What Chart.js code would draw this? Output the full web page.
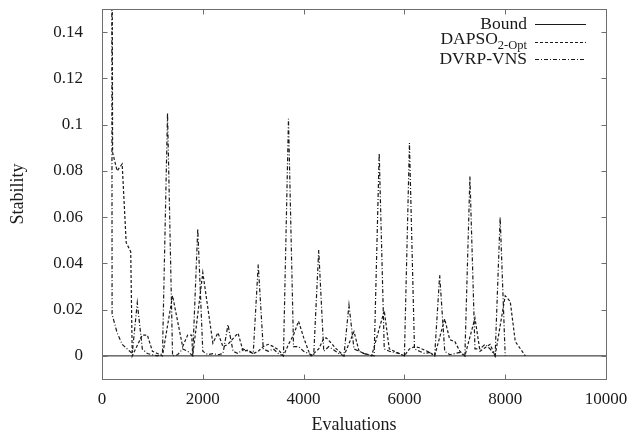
<!DOCTYPE html>
<html>
<head>
<meta charset="utf-8">
<script src="https://cdn.jsdelivr.net/npm/chart.js@4.4.0/dist/chart.umd.min.js"></script>
<style>
  html, body { margin: 0; padding: 0; background: #fff; }
  canvas { display: block; }
</style>
</head>
<body>
<canvas id="grafico" width="642" height="437"></canvas>
<script>
const boundEvals = [0, 10000];
const boundValues = [0, 0];

const dapsoEvals = [190, 210, 300, 400, 480, 570, 600, 800, 900, 1000, 1100, 1200, 1400, 1600, 1700, 1780, 1800,
  2000, 2200, 2300, 2400, 2500, 2600, 2700, 2800, 2900, 3000, 3100, 3200, 3300, 3400, 3500, 3600,
  3700, 3800, 3900, 4000, 4100, 4150, 4200, 4300, 4400, 4450, 4550, 4650, 4800,
  5000, 5100, 5200, 5300, 5350, 5600, 5700, 5800, 5900, 6000, 6100, 6200, 6300, 6400, 6500, 6600,
  6800, 6900, 7000, 7100, 7200, 7400, 7500, 7700, 7800, 8000, 8100, 8200, 8400];
const dapsoValues = [0.3, 0.088, 0.080, 0.083, 0.049, 0.045, 0, 0.009, 0.009, 0.002, 0.001, 0, 0.026, 0.004, 0.009, 0.009, 0,
  0.036, 0.0055, 0.010, 0.004, 0.005, 0.0075, 0.0098, 0.002, 0.0025, 0.001, 0.002, 0.004, 0.005, 0.004, 0.0027, 0,
  0.005, 0.009, 0.015, 0.008, 0.002, 0, 0.001, 0.003, 0.0075, 0.0078, 0.0055, 0.003, 0,
  0.0105, 0.002, 0.001, 0.0005, 0, 0.0195, 0.003, 0.002, 0.001, 0, 0.003, 0.004, 0.0035, 0.0025, 0.0015, 0,
  0.016, 0.007, 0.0062, 0.002, 0, 0.0163, 0.002, 0.005, 0, 0.026, 0.0235, 0.0062, 0];

const vnsEvals = [190, 200, 300, 400, 500, 600, 700, 800, 900, 1000, 1100, 1200, 1300, 1400, 1500, 1600, 1700, 1800,
  1900, 2000, 2100, 2200, 2300, 2400, 2500, 2600, 2700, 2800, 2900, 3000, 3100, 3200, 3300, 3400, 3500, 3600,
  3700, 3800, 3900, 4000, 4100, 4200, 4300, 4400, 4500, 4600, 4700, 4800, 4900, 5000, 5100, 5200, 5300, 5400,
  5500, 5600, 5700, 5800, 5900, 6000, 6100, 6200, 6300, 6400, 6500, 6600, 6700, 6800, 6900, 7000, 7100, 7200,
  7300, 7400, 7500, 7600, 7700, 7800, 7900, 8000];
const vnsValues = [0.3, 0.018, 0.010, 0.005, 0.003, 0.001, 0.023, 0.003, 0.001, 0.0005, 0, 0.001, 0.105, 0, 0.0005, 0.003, 0.002, 0,
  0.055, 0.002, 0.0005, 0.001, 0.0005, 0.001, 0.0135, 0.002, 0.001, 0.003, 0.002, 0.001, 0.0395, 0.003, 0.002, 0.003, 0.001, 0,
  0.1025, 0.004, 0.004, 0.002, 0.001, 0, 0.0458, 0.002, 0.004, 0.0025, 0.001, 0, 0.022, 0.003, 0.002, 0.001, 0.0005, 0,
  0.0877, 0.003, 0.002, 0.0015, 0.001, 0, 0.092, 0.003, 0.002, 0.001, 0.0015, 0, 0.035, 0.002, 0.0005, 0.001, 0.0015, 0,
  0.0776, 0.003, 0.003, 0.005, 0.003, 0, 0.060, 0];

const xTickValues = [0, 2000, 4000, 6000, 8000, 10000];
const yTickValues = [0, 0.02, 0.04, 0.06, 0.08, 0.1, 0.12, 0.14];
const yTickLabels = ['0', '0.02', '0.04', '0.06', '0.08', '0.1', '0.12', '0.14'];

const legendRows = [
  { text: 'Bound', sub: '' },
  { text: 'DAPSO', sub: '2-Opt' },
  { text: 'DVRP-VNS', sub: '' }
];

const toPoints = (xs, ys) => xs.map((x, i) => ({ x: x, y: ys[i] }));

const serif = "'Liberation Serif', 'DejaVu Serif', serif";
const ink = '#1a1a1a';
const frameColor = '#6e6e6e';
const lineColor = '#1a1a1a';

// gnuplot look: grey box with inward ticks on every side, key top right
const framePlugin = {
  id: 'frame',
  afterDraw(chart) {
    const { ctx, chartArea: a, scales } = chart;
    const L = Math.round(a.left) + 0.5, R = Math.round(a.right) + 0.5;
    const T = Math.round(a.top) + 0.5, B = Math.round(a.bottom) + 0.5;
    const tick = 5;
    ctx.save();
    ctx.strokeStyle = frameColor;
    ctx.lineWidth = 1;
    ctx.strokeRect(L, T, R - L, B - T);
    ctx.beginPath();
    yTickValues.forEach(v => {
      const y = Math.round(scales.y.getPixelForValue(v)) + 0.5;
      ctx.moveTo(L, y); ctx.lineTo(L + tick, y);
      ctx.moveTo(R, y); ctx.lineTo(R - tick, y);
    });
    xTickValues.forEach(v => {
      const x = Math.round(scales.x.getPixelForValue(v)) + 0.5;
      ctx.moveTo(x, B); ctx.lineTo(x, B - tick);
      ctx.moveTo(x, T); ctx.lineTo(x, T + tick);
    });
    ctx.stroke();

    // key
    const textRight = 527, sampleL = 535, sampleR = 586;
    const rowY = [24, 41.5, 59];
    legendRows.forEach((row, i) => {
      const ds = chart.data.datasets[i];
      const y = rowY[i];
      ctx.fillStyle = ink;
      ctx.textBaseline = 'middle';
      ctx.textAlign = 'left';
      ctx.font = '17.5px ' + serif;
      const mainW = ctx.measureText(row.text).width;
      ctx.font = '12.5px ' + serif;
      const subW = row.sub ? ctx.measureText(row.sub).width : 0;
      const x0 = textRight - mainW - subW;
      ctx.font = '17.5px ' + serif;
      ctx.fillText(row.text, x0, row.sub ? y - 2 : y);
      if (row.sub) {
        ctx.font = '12.5px ' + serif;
        ctx.fillText(row.sub, x0 + mainW, y + 4);
      }
      ctx.strokeStyle = ds.borderColor;
      ctx.lineWidth = ds.borderWidth;
      ctx.setLineDash(ds.borderDash || []);
      ctx.beginPath();
      ctx.moveTo(sampleL, Math.round(y) + 0.5);
      ctx.lineTo(sampleR, Math.round(y) + 0.5);
      ctx.stroke();
      ctx.setLineDash([]);
    });
    ctx.restore();
  }
};

const ctx = document.getElementById('grafico').getContext('2d');

const grafico = new Chart(ctx, {
  type: 'line',
  data: {
    datasets: [{
      label: 'Bound',
      data: toPoints(boundEvals, boundValues),
      borderColor: lineColor,
      borderWidth: 1,
      borderDash: []
    }, {
      label: 'DAPSO2-Opt',
      data: toPoints(dapsoEvals, dapsoValues),
      borderColor: lineColor,
      borderWidth: 1.2,
      borderDash: [3, 2]
    }, {
      label: 'DVRP-VNS',
      data: toPoints(vnsEvals, vnsValues),
      borderColor: lineColor,
      borderWidth: 1.2,
      borderDash: [4, 2, 1, 2]
    }]
  },
  options: {
    responsive: false,
    animation: false,
    layout: { padding: { top: 9, right: 36, left: 0, bottom: 0 } },
    elements: {
      point: { radius: 0 },
      line: { tension: 0, fill: false }
    },
    plugins: {
      legend: { display: false },
      tooltip: { enabled: false }
    },
    scales: {
      x: {
        type: 'linear',
        min: 0,
        max: 10000,
        grid: { display: false },
        border: { display: false },
        afterBuildTicks: axis => { axis.ticks = xTickValues.map(v => ({ value: v })); },
        afterFit: axis => { axis.height = 58; axis.paddingLeft = 0; axis.paddingRight = 0; },
        ticks: {
          color: ink,
          padding: 2,
          maxRotation: 0,
          font: { family: serif, size: 17 },
          callback: v => String(v)
        },
        title: {
          display: true,
          text: 'Evaluations',
          color: ink,
          font: { family: serif, size: 18 },
          padding: { top: 0, bottom: 1 }
        }
      },
      y: {
        min: -0.01,
        max: 0.15,
        grid: { display: false },
        border: { display: false },
        afterBuildTicks: axis => { axis.ticks = yTickValues.map(v => ({ value: v })); },
        afterFit: axis => { axis.width = 102; axis.paddingTop = 0; axis.paddingBottom = 0; },
        ticks: {
          color: ink,
          padding: 11,
          font: { family: serif, size: 17 },
          callback: (v, i) => yTickLabels[i]
        },
        title: {
          display: true,
          text: 'Stability',
          color: ink,
          font: { family: serif, size: 18 },
          padding: { top: 7, bottom: 0 }
        }
      }
    }
  },
  plugins: [framePlugin]
});
</script>
</body>
</html>
